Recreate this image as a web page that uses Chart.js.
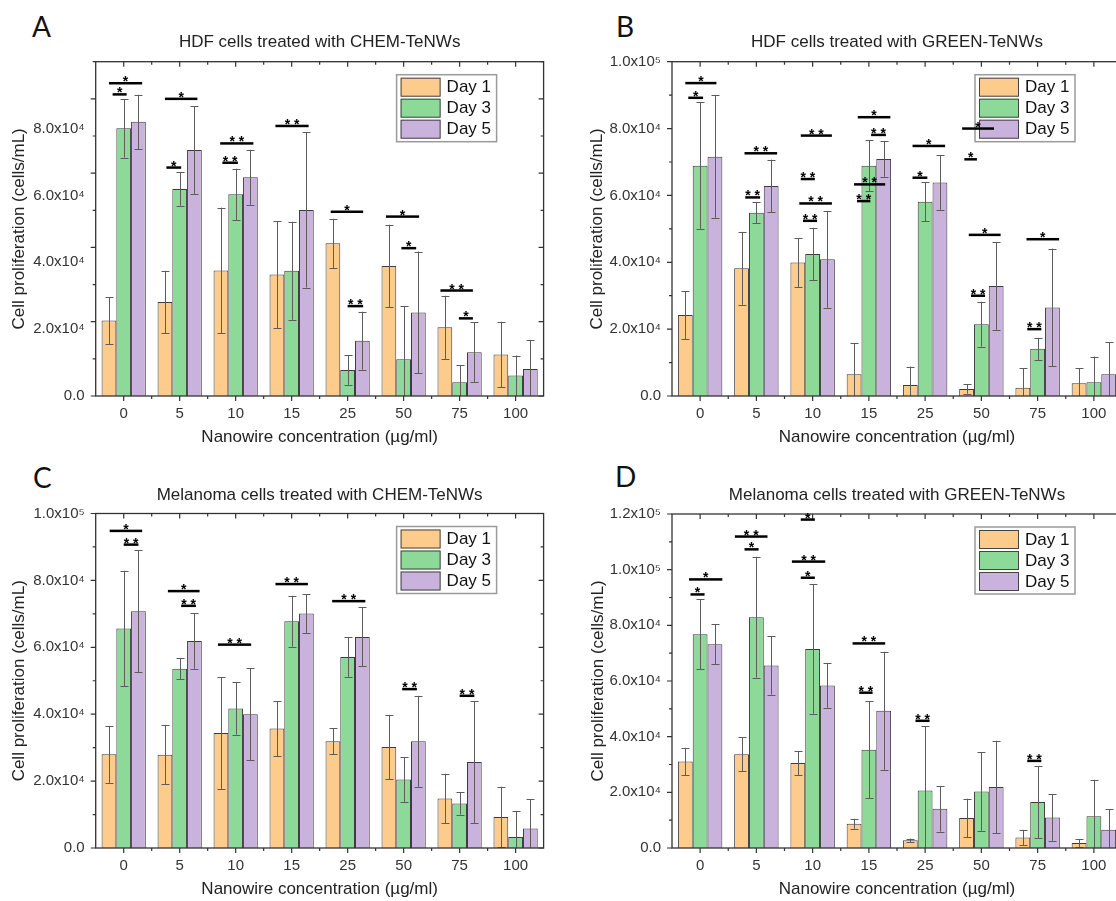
<!DOCTYPE html>
<html>
<head>
<meta charset="utf-8">
<script src="https://cdn.jsdelivr.net/npm/chart.js@4.4.1/dist/chart.umd.min.js"></script>
<style>
  html, body { margin: 0; padding: 0; background: #fff; }
  body { width: 1116px; height: 901px; overflow: hidden; position: relative; }
  canvas { position: absolute; }
  .letter { position: absolute; font-family: Lato, "Open Sans", sans-serif; font-size: 28px; line-height: 1; color: #111; }
</style>
</head>
<body>
<div class="letter" style="left:32px;top:12px">A</div>
<div class="letter" style="left:616px;top:12px">B</div>
<div class="letter" style="left:33px;top:463px">C</div>
<div class="letter" style="left:615px;top:462px">D</div>
<canvas id="chartA"></canvas>
<canvas id="chartB"></canvas>
<canvas id="chartC"></canvas>
<canvas id="chartD"></canvas>
<script>
const concentrations = ['0', '5', '10', '15', '25', '50', '75', '100'];
const dayNames = ['Day 1', 'Day 3', 'Day 5'];
const dayColors = ['#fdcc8c', '#8dd998', '#c9b2dc'];

const yLabels90k = ['0.0', '2.0x10⁴', '4.0x10⁴', '6.0x10⁴', '8.0x10⁴'];
const yLabels100k = ['0.0', '2.0x10⁴', '4.0x10⁴', '6.0x10⁴', '8.0x10⁴', '1.0x10⁵'];
const yLabels120k = ['0.0', '2.0x10⁴', '4.0x10⁴', '6.0x10⁴', '8.0x10⁴', '1.0x10⁵', '1.2x10⁵'];

// A - HDF, CHEM-TeNWs
const hdfChemDay1 = [2.03e4, 2.53e4, 3.38e4, 3.27e4, 4.11e4, 3.50e4, 1.85e4, 1.12e4];
const hdfChemDay1Err = [0.63e4, 0.84e4, 1.69e4, 1.44e4, 0.66e4, 1.11e4, 0.85e4, 0.88e4];
const hdfChemDay3 = [7.21e4, 5.57e4, 5.43e4, 3.37e4, 0.70e4, 0.99e4, 0.37e4, 0.55e4];
const hdfChemDay3Err = [0.79e4, 0.45e4, 0.69e4, 1.32e4, 0.40e4, 1.42e4, 0.46e4, 0.54e4];
const hdfChemDay5 = [7.38e4, 6.62e4, 5.89e4, 5.01e4, 1.49e4, 2.25e4, 1.18e4, 0.73e4];
const hdfChemDay5Err = [0.73e4, 1.18e4, 0.74e4, 2.09e4, 0.78e4, 1.64e4, 0.80e4, 0.78e4];
// [group, from, to (bar widths from Day 3 centre), height, label]
const hdfChemSig = [
  [0, -1.0, 1.25, 8.42e4, '*'], [0, -0.75, 0.2, 8.12e4, '*'],
  [1, -1.0, 1.2, 8.0e4, '*'], [1, -0.9, 0.1, 6.15e4, '*'],
  [2, -1.05, 1.2, 6.8e4, '**'], [2, -0.9, 0.15, 6.28e4, '**'],
  [3, -1.1, 1.15, 7.27e4, '**'],
  [4, -1.15, 1.05, 4.96e4, '*'], [4, 0.0, 1.05, 2.42e4, '**'],
  [5, -1.2, 1.05, 4.83e4, '*'], [5, -0.15, 0.85, 3.98e4, '*'],
  [6, -1.3, 0.9, 2.84e4, '**'], [6, -0.05, 0.9, 2.09e4, '*']
];

// B - HDF, GREEN-TeNWs
const hdfGreenDay1 = [2.42e4, 3.82e4, 3.99e4, 0.65e4, 0.33e4, 0.21e4, 0.25e4, 0.38e4];
const hdfGreenDay1Err = [0.72e4, 1.09e4, 0.73e4, 0.93e4, 0.55e4, 0.14e4, 0.58e4, 0.45e4];
const hdfGreenDay3 = [6.89e4, 5.48e4, 4.25e4, 6.89e4, 5.81e4, 2.15e4, 1.41e4, 0.41e4];
const hdfGreenDay3Err = [1.89e4, 0.31e4, 0.78e4, 0.76e4, 0.58e4, 0.67e4, 0.33e4, 0.77e4];
const hdfGreenDay5 = [7.16e4, 6.28e4, 4.09e4, 7.09e4, 6.39e4, 3.29e4, 2.65e4, 0.65e4];
const hdfGreenDay5Err = [1.83e4, 0.79e4, 1.45e4, 0.53e4, 0.82e4, 1.31e4, 1.76e4, 0.96e4];
const hdfGreenSig = [
  [0, -1.0, 1.1, 9.36e4, '*'], [0, -0.8, 0.2, 8.92e4, '*'],
  [1, -0.8, 1.4, 7.26e4, '**'], [1, -0.75, 0.25, 5.94e4, '**'],
  [2, -0.8, 1.3, 7.79e4, '**'], [2, -0.8, 0.15, 6.49e4, '**'],
  [2, -0.9, 1.3, 5.76e4, '**'], [2, -0.65, 0.3, 5.24e4, '**'],
  [3, -0.75, 1.45, 8.34e4, '*'], [3, 0.15, 1.15, 7.81e4, '**'],
  [3, -1.0, 1.1, 6.33e4, '**'], [3, -0.8, 0.1, 5.83e4, '**'],
  [4, -0.85, 1.35, 7.48e4, '*'], [4, -0.85, 0.15, 6.53e4, '*'],
  [5, -1.3, 0.85, 8.0e4, '*'], [5, -1.15, -0.3, 7.08e4, '*'],
  [5, -0.85, 1.3, 4.82e4, '*'], [5, -0.7, 0.25, 3.0e4, '**'],
  [6, -0.75, 1.45, 4.69e4, '*'], [6, -0.7, 0.25, 2.0e4, '**']
];

// C - Melanoma, CHEM-TeNWs
const melChemDay1 = [2.80e4, 2.79e4, 3.44e4, 3.57e4, 3.19e4, 3.02e4, 1.48e4, 0.93e4];
const melChemDay1Err = [0.85e4, 0.89e4, 1.67e4, 0.82e4, 0.39e4, 0.96e4, 0.74e4, 0.90e4];
const melChemDay3 = [6.56e4, 5.36e4, 4.17e4, 6.78e4, 5.71e4, 2.05e4, 1.33e4, 0.33e4];
const melChemDay3Err = [1.73e4, 0.31e4, 0.78e4, 0.76e4, 0.59e4, 0.67e4, 0.33e4, 0.78e4];
const melChemDay5 = [7.08e4, 6.19e4, 4.00e4, 7.01e4, 6.31e4, 3.19e4, 2.57e4, 0.58e4];
const melChemDay5Err = [1.82e4, 0.83e4, 1.38e4, 0.58e4, 0.88e4, 1.36e4, 1.82e4, 0.88e4];
const melChemSig = [
  [0, -0.95, 1.25, 9.48e4, '*'], [0, 0.0, 1.0, 9.07e4, '**'],
  [1, -0.8, 1.35, 7.68e4, '*'], [1, 0.1, 1.1, 7.24e4, '**'],
  [2, -1.2, 1.05, 6.08e4, '**'],
  [3, -1.1, 1.1, 7.89e4, '**'],
  [4, -1.05, 1.2, 7.38e4, '**'],
  [5, -0.1, 0.9, 4.75e4, '**'],
  [6, 0.0, 1.0, 4.55e4, '**']
];

// D - Melanoma, GREEN-TeNWs
const melGreenDay1 = [3.11e4, 3.37e4, 3.05e4, 0.87e4, 0.28e4, 1.08e4, 0.38e4, 0.18e4];
const melGreenDay1Err = [0.49e4, 0.61e4, 0.43e4, 0.18e4, 0.06e4, 0.69e4, 0.27e4, 0.14e4];
const melGreenDay3 = [7.68e4, 8.29e4, 7.15e4, 3.53e4, 2.07e4, 2.03e4, 1.65e4, 1.14e4];
const melGreenDay3Err = [1.26e4, 2.17e4, 2.32e4, 1.75e4, 2.30e4, 1.41e4, 1.29e4, 1.31e4];
const melGreenDay5 = [7.32e4, 6.56e4, 5.84e4, 4.93e4, 1.41e4, 2.19e4, 1.10e4, 0.66e4];
const melGreenDay5Err = [0.72e4, 1.05e4, 0.80e4, 2.12e4, 0.82e4, 1.66e4, 0.84e4, 0.74e4];
const melGreenSig = [
  [0, -0.75, 1.5, 9.65e4, '*'], [0, -0.65, 0.3, 9.11e4, '*'],
  [1, -1.45, 0.75, 11.19e4, '**'], [1, -0.8, 0.15, 10.73e4, '*'],
  [2, -0.8, 0.15, 11.8e4, '*'], [2, -1.4, 0.85, 10.29e4, '**'], [2, -0.8, 0.15, 9.71e4, '*'],
  [3, -1.1, 1.1, 7.35e4, '**'], [3, -0.65, 0.25, 5.58e4, '**'],
  [4, -0.65, 0.3, 4.57e4, '**'],
  [6, -0.7, 0.25, 3.13e4, '**']
];

const FONT = '"Liberation Sans", Arial, sans-serif';
Chart.defaults.font.family = FONT;
Chart.defaults.color = '#222';

// error bars, axis frame with minor ticks, legend and significance bars
const panelDecor = {
  id: 'panelDecor',
  afterDatasetsDraw(chart, args, opts) {
    const { ctx, chartArea: a, scales: { x, y } } = chart;
    const sets = chart.data.datasets;

    ctx.save();
    ctx.beginPath();
    ctx.rect(a.left, a.top, a.right - a.left, a.bottom - a.top);
    ctx.clip();
    ctx.strokeStyle = '#5c5c5c';
    ctx.lineWidth = 1;
    sets.forEach((ds, di) => {
      chart.getDatasetMeta(di).data.forEach((bar, i) => {
        const v = ds.data[i], e = ds.errors[i];
        const yt = y.getPixelForValue(v + e);
        const yb = y.getPixelForValue(v - e);
        const xc = Math.round(bar.x) + 0.5;
        ctx.beginPath();
        ctx.moveTo(xc, yt); ctx.lineTo(xc, yb);
        ctx.moveTo(xc - 4, Math.round(yt) + 0.5); ctx.lineTo(xc + 4, Math.round(yt) + 0.5);
        ctx.moveTo(xc - 4, Math.round(yb) + 0.5); ctx.lineTo(xc + 4, Math.round(yb) + 0.5);
        ctx.stroke();
      });
    });
    ctx.restore();

    // frame and ticks
    ctx.save();
    ctx.strokeStyle = '#333';
    ctx.lineWidth = 1.3;
    ctx.strokeRect(a.left, a.top, a.right - a.left, a.bottom - a.top);
    ctx.lineWidth = 1.2;
    ctx.beginPath();
    for (let i = 0; i < concentrations.length; i++) {
      const px = x.getPixelForValue(i);
      ctx.moveTo(px, a.bottom); ctx.lineTo(px, a.bottom + 5);
      ctx.moveTo(px, a.top); ctx.lineTo(px, a.top + 5);
      if (i < concentrations.length - 1) {
        const mx = x.getPixelForValue(i + 0.5);
        ctx.moveTo(mx, a.bottom); ctx.lineTo(mx, a.bottom + 3);
        ctx.moveTo(mx, a.top); ctx.lineTo(mx, a.top + 3);
      }
    }
    for (let v = 0; v <= y.max + 1; v += 1e4) {
      const py = y.getPixelForValue(v);
      const len = (Math.round(v / 1e4) % 2 === 0) ? 5 : 3;
      ctx.moveTo(a.left - len, py); ctx.lineTo(a.left, py);
      ctx.moveTo(a.right - len, py); ctx.lineTo(a.right, py);
    }
    ctx.stroke();
    ctx.restore();

    // legend
    const lx = a.right - 147, ly = a.top + 13;
    ctx.save();
    ctx.fillStyle = '#fff';
    ctx.fillRect(lx, ly, 100, 67);
    ctx.strokeStyle = '#9a9a9a';
    ctx.lineWidth = 1.5;
    ctx.strokeRect(lx, ly, 100, 67);
    ctx.font = '17px ' + FONT;
    ctx.textBaseline = 'middle';
    sets.forEach((ds, i) => {
      const ry = ly + 3 + i * 21;
      ctx.fillStyle = ds.backgroundColor;
      ctx.fillRect(lx + 4, ry, 40, 19);
      ctx.strokeStyle = '#444';
      ctx.lineWidth = 1;
      ctx.strokeRect(lx + 4.5, ry + 0.5, 39, 18);
      ctx.fillStyle = '#111';
      ctx.fillText(ds.label, lx + 50, ry + 10);
    });
    ctx.restore();

    // significance bars
    const bw = chart.getDatasetMeta(0).data[0].width;
    ctx.save();
    ctx.fillStyle = '#000';
    ctx.font = 'bold 14px ' + FONT;
    ctx.textAlign = 'center';
    ctx.textBaseline = 'alphabetic';
    opts.marks.forEach(([g, x1, x2, v, txt]) => {
      const cx = x.getPixelForValue(g);
      const py = y.getPixelForValue(v);
      ctx.fillRect(cx + x1 * bw, py - 1.25, (x2 - x1) * bw, 2.5);
      ctx.fillText(txt.split('').join(' '), cx + (x1 + x2) / 2 * bw, py + 3);
    });
    ctx.restore();
  }
};

function makePanel(id, p) {
  const g = p.geo;
  const cv = document.getElementById(id);
  cv.width = g.w; cv.height = g.h;
  cv.style.left = g.x0 + 'px';
  cv.style.top = g.y0 + 'px';
  const lh = 17 * 1.2;
  const datasets = dayNames.map((name, i) => ({
    label: name,
    data: p.values[i],
    errors: p.errors[i],
    backgroundColor: dayColors[i],
    borderColor: '#3c3c3c',
    borderWidth: 1,
    categoryPercentage: 0.79,
    barPercentage: 1.0
  }));
  return new Chart(cv, {
    type: 'bar',
    data: { labels: concentrations, datasets },
    plugins: [panelDecor],
    options: {
      responsive: false,
      animation: false,
      devicePixelRatio: 1,
      layout: { padding: { left: 0, right: g.x0 + g.w - g.right, top: 0, bottom: 0 } },
      plugins: {
        legend: { display: false },
        tooltip: { enabled: false },
        title: {
          display: true,
          text: p.title,
          fullSize: false,
          color: '#222',
          font: { size: 17, weight: 'normal' },
          padding: { top: g.titleY - g.y0 - lh / 2, bottom: g.top - g.titleY - lh / 2 }
        },
        panelDecor: { marks: p.marks }
      },
      scales: {
        x: {
          grid: { display: false, drawTicks: false },
          border: { display: false },
          ticks: { padding: 9, color: '#333', font: { size: 15 }, maxRotation: 0, autoSkip: false },
          title: {
            display: true,
            text: 'Nanowire concentration (µg/ml)',
            color: '#222',
            font: { size: 17 },
            padding: { top: 0, bottom: g.y0 + g.h - g.xTitleY - lh / 2 }
          },
          afterFit: s => { s.height = g.y0 + g.h - g.bottom; }
        },
        y: {
          min: 0,
          max: p.yMax,
          grid: { display: false, drawTicks: false },
          border: { display: false },
          ticks: {
            stepSize: 2e4,
            includeBounds: false,
            padding: 11,
            color: '#333',
            font: { size: 15 },
            callback: (v, i) => p.yLabels[i]
          },
          title: {
            display: true,
            text: 'Cell proliferation (cells/mL)',
            color: '#222',
            font: { size: 17 },
            padding: { top: g.yTitleX - g.x0 - lh / 2, bottom: 0 }
          },
          afterFit: s => { s.width = g.left - g.x0; }
        }
      }
    }
  });
}

makePanel('chartA', {
  title: 'HDF cells treated with CHEM-TeNWs',
  values: [hdfChemDay1, hdfChemDay3, hdfChemDay5],
  errors: [hdfChemDay1Err, hdfChemDay3Err, hdfChemDay5Err],
  marks: hdfChemSig, yMax: 9e4, yLabels: yLabels90k,
  geo: { x0: 0, y0: 0, w: 560, h: 450, left: 95.7, right: 543.6, top: 61.7, bottom: 396,
         titleY: 42.7, xTitleY: 437, yTitleX: 19.6 }
});
makePanel('chartB', {
  title: 'HDF cells treated with GREEN-TeNWs',
  values: [hdfGreenDay1, hdfGreenDay3, hdfGreenDay5],
  errors: [hdfGreenDay1Err, hdfGreenDay3Err, hdfGreenDay5Err],
  marks: hdfGreenSig, yMax: 1e5, yLabels: yLabels100k,
  geo: { x0: 556, y0: 0, w: 600, h: 450, left: 672, right: 1122, top: 61.7, bottom: 396,
         titleY: 42.7, xTitleY: 437, yTitleX: 597 }
});
makePanel('chartC', {
  title: 'Melanoma cells treated with CHEM-TeNWs',
  values: [melChemDay1, melChemDay3, melChemDay5],
  errors: [melChemDay1Err, melChemDay3Err, melChemDay5Err],
  marks: melChemSig, yMax: 1e5, yLabels: yLabels100k,
  geo: { x0: 0, y0: 450, w: 560, h: 451, left: 95.7, right: 543.6, top: 513.5, bottom: 848,
         titleY: 495, xTitleY: 889, yTitleX: 19.6 }
});
makePanel('chartD', {
  title: 'Melanoma cells treated with GREEN-TeNWs',
  values: [melGreenDay1, melGreenDay3, melGreenDay5],
  errors: [melGreenDay1Err, melGreenDay3Err, melGreenDay5Err],
  marks: melGreenSig, yMax: 1.2e5, yLabels: yLabels120k,
  geo: { x0: 556, y0: 450, w: 600, h: 451, left: 672, right: 1122, top: 514, bottom: 848,
         titleY: 495, xTitleY: 889, yTitleX: 598 }
});
</script>
</body>
</html>
